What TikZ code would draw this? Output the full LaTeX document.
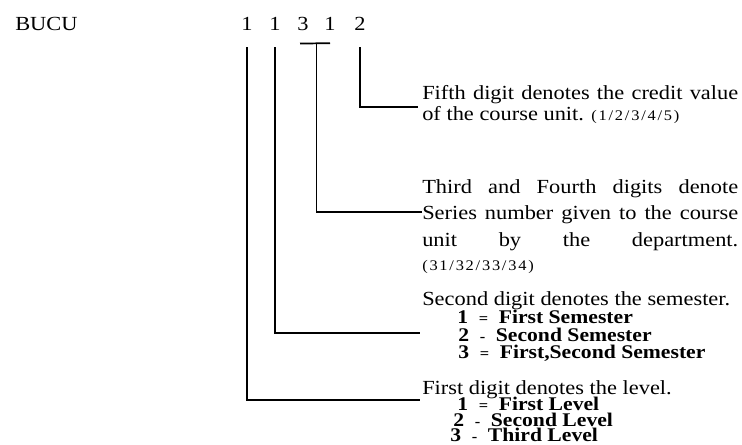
\documentclass[tikz,border=0pt]{standalone}
\usepackage{fontspec}
\setmainfont{Liberation Serif}[FakeStretch=1.12]
\usepackage{tikz}
\usetikzlibrary{calc}
\newcommand\fullline[1]{\makebox[237pt][s]{#1}}
\newcommand\smallnum[1]{{\fontsize{11}{13}\selectfont\addfontfeature{LetterSpace=12}#1}}
\newcommand\sep[1]{\hspace{8pt}{\fontsize{11}{11}\selectfont #1}\hspace{8pt}}

\begin{document}
\begin{tikzpicture}[
  x=0.75pt, y=-0.75pt,
  font=\fontsize{15}{18}\selectfont,
  txt/.style={anchor=base west, inner sep=0pt},
  itm/.style={anchor=base west, inner sep=0pt, font=\fontsize{14.5}{17}\selectfont\bfseries},
  dig/.style={anchor=base, inner sep=0pt},
  conn/.style={line width=1.3pt}
]
  \useasboundingbox (0,0) rectangle (742,444);
  % code and its digits
  \node[txt] (code) at (15,30) {BUCU};
  \node[dig] (d1) at (247,30) {1};
  \node[dig] (d2) at (275,30) {1};
  \node[dig] (d3) at (303,30) {3};
  \node[dig] (d4) at (330,30) {1};
  \node[dig] (d5) at (360,30) {2};
  % where the leaders end
  \coordinate (e5) at (418,107);
  \coordinate (e34) at (422,212);
  \coordinate (e2) at (420,333);
  \coordinate (e1) at (420,400);
  % fifth digit
  \node[txt] (t5a) at (422,99) {\fullline{Fifth digit denotes the credit value}};
  \node[txt] (t5b) at (422,120) {of the course unit. \smallnum{(1/2/3/4/5)}};
  % third and fourth digits
  \node[txt] (t34a) at (422,193) {\fullline{Third and Fourth digits denote}};
  \node[txt] (t34b) at (422,219) {\fullline{Series number given to the course}};
  \node[txt] (t34c) at (422,246) {\fullline{unit by the department.}};
  \node[txt] (t34d) at (422,270) {\smallnum{(31/32/33/34)}};
  % second digit
  \node[txt] (t2) at (422,305) {Second digit denotes the semester.};
  \node[itm] (t2a) at (457,323) {1\sep{=}First Semester};
  \node[itm] (t2b) at (458,341) {2\sep{-}Second Semester};
  \node[itm] (t2c) at (458,358) {3\sep{=}First,Second Semester};
  % first digit
  \node[txt] (t1) at (422,394) {First digit denotes the level.};
  \node[itm] (t1a) at (457,410) {1\sep{=}First Level};
  \node[itm] (t1b) at (453,426) {2\sep{-}Second Level};
  \node[itm] (t1c) at (450,441) {3\sep{-}Third Level};
  % leaders
  \draw[conn] (d5.south) ++(0,17) |- (e5);
  \draw[conn] ([shift={(-3,13)}]d3.south) -- ([shift={(0,13)}]d4.south);
  \draw[conn] ($(d3.south)!.5!(d4.south)+(0,13)$) |- (e34);
  \draw[conn] (d2.south) ++(0,17) |- (e2);
  \draw[conn] (d1.south) ++(0,17) |- (e1);
\end{tikzpicture}
\end{document}
